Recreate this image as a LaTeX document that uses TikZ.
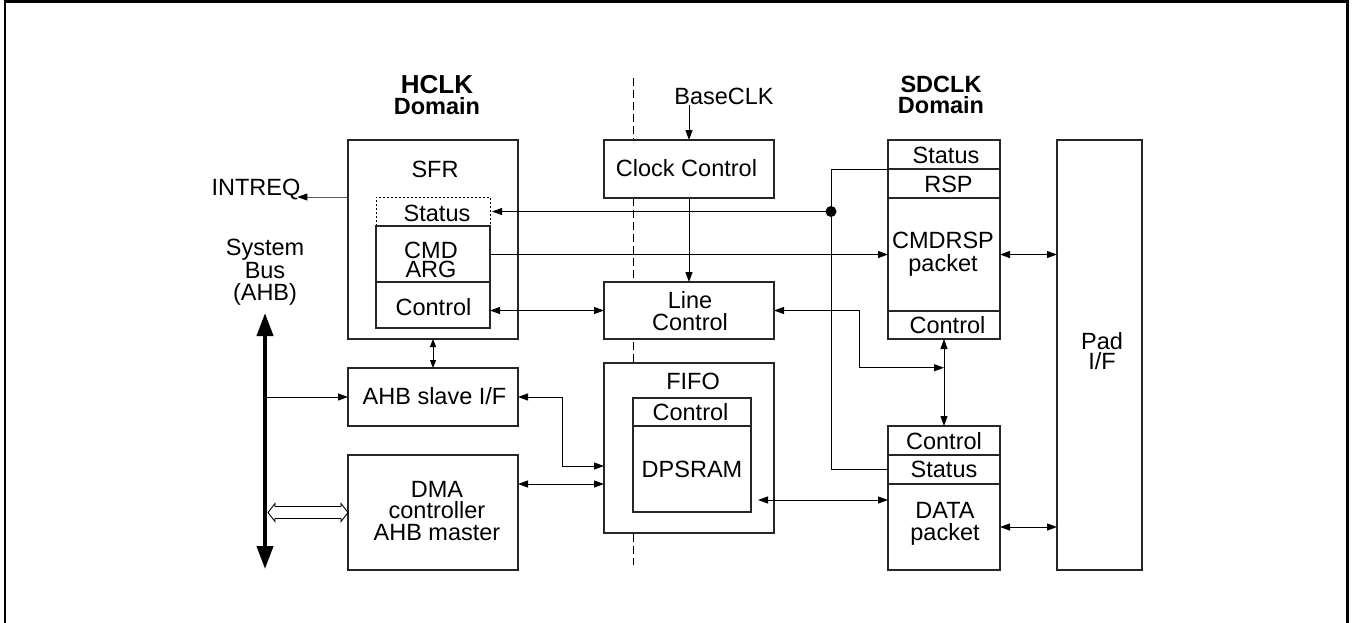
\documentclass[tikz,border=0pt]{standalone}
\usepackage{fontspec}
\setmainfont{Liberation Sans}
\usetikzlibrary{arrows.meta,calc}
\tikzset{
  box/.style={draw=black!85, line width=1.2pt, fill=white, inner sep=0pt, outer sep=0pt, anchor=north west},
  lbl/.style={inner sep=0pt, outer sep=0pt, font=\fontsize{23.5}{20}\selectfont, align=center},
  blbl/.style={lbl, font=\fontsize{23.5}{20.5}\selectfont\bfseries},
  conn/.style={line width=1pt},
  arr/.style={conn, -{Triangle[length=10pt,width=7pt]}},
  darr/.style={conn, {Triangle[length=10pt,width=7pt]}-{Triangle[length=10pt,width=7pt]}},
  sdarr/.style={conn, {Triangle[length=8pt,width=6pt]}-{Triangle[length=8pt,width=6pt]}},
  busarr/.style={line width=4pt, {Triangle[length=23pt,width=16pt]}-{Triangle[length=23pt,width=16pt]}},
}
\begin{document}
\begin{tikzpicture}[x=1pt,y=-1pt]
\useasboundingbox (0,0) rectangle (1354,622);
% frame (three sides)
\draw[line width=2.5pt] (5,640) -- (5,1.5) -- (1347.5,1.5) -- (1347.5,640);
% domain separator
\draw[line width=0.8pt, dash pattern=on 8pt off 4pt] (633,78) -- (633,565);

% ---- boxes ----
\node[box, minimum width=170pt, minimum height=199pt] (sfr) at (348,140) {};
\node[box, minimum width=114pt, minimum height=29pt, draw=none] (sfrstatus) at (376,197) {};
\draw[line width=0.9pt, dash pattern=on 2pt off 2pt] (sfrstatus.south west) -- (sfrstatus.north west) -- (sfrstatus.north east) -- (sfrstatus.south east);
\node[box, minimum width=114pt, minimum height=56pt] (sfrcmd) at (376,226) {};
\node[box, minimum width=114pt, minimum height=46pt] (sfrctrl) at (376,282) {};
\node[box, minimum width=170pt, minimum height=58pt] (ahbs) at (348,368) {};
\node[box, minimum width=170pt, minimum height=115pt] (dma) at (348,455) {};

\node[box, minimum width=170pt, minimum height=58pt] (clk) at (604,140) {};
\node[box, minimum width=170pt, minimum height=57pt] (linec) at (604,282) {};
\node[box, minimum width=170pt, minimum height=170pt] (fifo) at (604,363) {};
\node[box, minimum width=118pt, minimum height=28pt] (fifoctrl) at (633,398) {};
\node[box, minimum width=118pt, minimum height=86pt] (dpsram) at (633,426) {};

\node[box, minimum width=112pt, minimum height=29pt] (cstatus) at (888,140) {};
\node[box, minimum width=112pt, minimum height=29pt] (rsp) at (888,169) {};
\node[box, minimum width=112pt, minimum height=113pt] (cmdpkt) at (888,198) {};
\node[box, minimum width=112pt, minimum height=28pt] (cmdctrl) at (888,311) {};

\node[box, minimum width=112pt, minimum height=29pt] (dctrl) at (888,426) {};
\node[box, minimum width=112pt, minimum height=29pt] (dstatus) at (888,455) {};
\node[box, minimum width=112pt, minimum height=86pt] (dpkt) at (888,484) {};

\node[box, minimum width=85pt, minimum height=430pt] (pad) at (1057,140) {};

% ---- labels ----
\node[blbl] (hclk) at (437,95) {{\fontsize{26}{20.5}\selectfont HCLK}\\Domain};
\node[blbl] (sdclk) at (941,95) {SDCLK\\Domain};
\node[lbl] (intreq) at (256,189.5) {INTREQ};
\node[lbl, font=\fontsize{23.5}{22.5}\selectfont] (sysbus) at (265,272.5) {System\\Bus\\(AHB)};
\node[lbl] (baseclk) at (724,96.5) {BaseCLK};
\node[lbl] (tsfr) at (435,169.5) {SFR};
\node[lbl] (tsfrstatus) at (437,213.5) {Status};
\node[lbl, font=\fontsize{23.5}{19.5}\selectfont] (tcmd) at (431,260) {CMD\\ARG};
\node[lbl] (tsfrctrl) at (433.5,307.5) {Control};
\node[lbl] (tahbs) at (434.5,396.5) {AHB slave I/F};
\node[lbl, font=\fontsize{23.5}{21.5}\selectfont] (tdma) at (437,511) {DMA\\controller\\AHB master};
\node[lbl] (tclk) at (686.5,168.5) {Clock Control};
\node[lbl, font=\fontsize{23.5}{21.5}\selectfont] (tlinec) at (690,311) {Line\\Control};
\node[lbl] (tfifo) at (693,381.5) {FIFO};
\node[lbl] (tfifoctrl) at (690.5,412.5) {Control};
\node[lbl] (tdpsram) at (692,469.5) {DPSRAM};
\node[lbl] (tcstatus) at (946,155) {Status};
\node[lbl] (trsp) at (948.5,184) {RSP};
\node[lbl, font=\fontsize{23.5}{23}\selectfont] (tcmdpkt) at (943,254) {CMDRSP\\packet};
\node[lbl] (tcmdctrl) at (947.5,325) {Control};
\node[lbl] (tdctrl) at (944,441) {Control};
\node[lbl] (tdstatus) at (944,469.5) {Status};
\node[lbl, font=\fontsize{23.5}{21.7}\selectfont] (tdpkt) at (945,524) {DATA\\packet};
\node[lbl, font=\fontsize{23.5}{19.5}\selectfont] (tpad) at (1102,351) {Pad\\I/F};

% ---- connectors ----
\coordinate (bustop) at (265,313);
\coordinate (busbot) at (265,569);
\draw[busarr] (bustop) -- (busbot);
\draw[arr] (bustop |- ahbs.west) -- (ahbs.west);
\coordinate (hl) at ($(bustop |- dma.west)+(3,0)$);
\coordinate (hr) at (dma.west);
\draw[line width=0.9pt, fill=white] (hl) -- ($(hl)+(7,-9)$) -- ($(hl)+(7,-6)$) -- ($(hr)+(-7,-6)$) -- ($(hr)+(-7,-9)$) -- (hr)
  -- ($(hr)+(-7,9)$) -- ($(hr)+(-7,6)$) -- ($(hl)+(7,6)$) -- ($(hl)+(7,9)$) -- cycle;

\draw[arr] (sfr.west |- sfrstatus.north) -- (intreq.east |- sfrstatus.north) -- ++(-3,0);
\draw[sdarr] (sfr.south) -- (ahbs.north);

\coordinate (jdot) at (831,211.5);
\draw[conn] (rsp.north west) -- ++(-57,0) |- (dstatus.west);
\draw[arr] (jdot) -- ($(sfrstatus.east)+(2,0)$);
\fill (jdot) circle (5.5pt);

\draw[arr] (sfrcmd.east |- cmdpkt.west) -- (cmdpkt.west);
\draw[darr] (cmdpkt.east) -- (cmdpkt.east -| pad.west);
\draw[darr] (linec.west -| sfrctrl.east) -- (linec.west);
\draw[arr] (baseclk.south -| clk.north) -- (clk.north);
\draw[arr] (clk.south) -- (linec.north);

\coordinate (lj) at ($(cmdctrl.south)!0.33!(dctrl.north)$);
\draw[darr] (linec.east) -- ++(85,0) |- (lj);
\draw[darr] (cmdctrl.south) -- (dctrl.north);

\coordinate (fa) at ($(fifo.west)+(0,18)$);
\coordinate (fb) at ($(fifo.west)+(0,36)$);
\draw[darr] (ahbs.east) -- ++(44,0) |- (fa);
\draw[darr] (fb -| dma.east) -- (fb);
\coordinate (dp) at ($(dpsram.east)+(7,31)$);
\draw[darr] (dp) -- (dp -| dpkt.west);
\draw[darr] (dpkt.east) -- (dpkt.east -| pad.west);
\end{tikzpicture}
\end{document}
